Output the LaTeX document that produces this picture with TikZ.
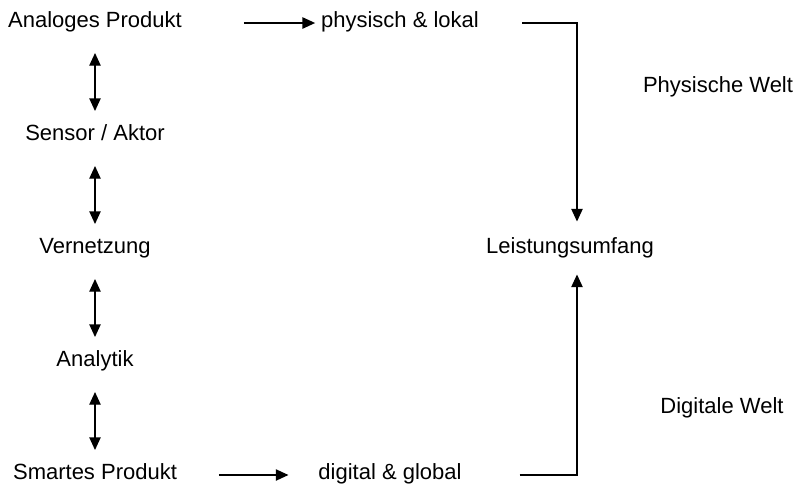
\documentclass[tikz,border=0pt]{standalone}
\usepackage{fontspec}
\setmainfont{Liberation Sans}
\usetikzlibrary{arrows.meta}

\begin{document}
\begin{tikzpicture}[x=0.75pt,y=-0.75pt,>={Triangle[length=9.5pt,width=8.5pt]},
  line width=1pt,node distance=84.75pt,
  label node/.style={inner sep=0pt,text height=0.72em,text depth=0pt,font=\fontsize{16.5}{20}\selectfont}]
  \useasboundingbox (0,0) rectangle (797,490);

  \node[label node] (analog) at (95,23) {Analoges Produkt};
  \node[label node] (sensor) [below of=analog] {Sensor / Aktor};
  \node[label node] (vernetzung) [below of=sensor] {Vernetzung};
  \node[label node] (analytik) [below of=vernetzung] {Analytik};
  \node[label node] (smart) [below of=analytik] {Smartes Produkt};

  \node[label node] (lokal) at (400,23) {physisch \& lokal};
  \node[label node] (global) at (390,475) {digital \& global};
  \node[label node] (leistung) at (570,249) {Leistungsumfang};
  \node[label node] (physwelt) at (718,88) {Physische Welt};
  \node[label node] (digwelt) at (722,409) {Digitale Welt};

  \coordinate (oben) at (577,23);
  \coordinate (unten) at (577,475);

  \path[<->,shorten <=22.5pt,shorten >=18.75pt]
         (analog.center) edge (sensor.center)
         (sensor.center) edge (vernetzung.center)
         (vernetzung.center) edge (analytik.center)
         (analytik.center) edge (smart.center);

  \draw[->,shorten <=46pt,shorten >=4pt] (analog.east) -- (lokal.west);
  \draw[->,shorten <=31pt,shorten >=22pt] (smart.east) -- (global.west);
  \draw[->,shorten <=32pt,shorten >=16.5pt] (lokal.east) -- (oben) -- (oben |- leistung.north);
  \draw[->,shorten <=43pt,shorten >=15pt] (global.east) -- (unten) -- (unten |- leistung.south);
\end{tikzpicture}
\end{document}
